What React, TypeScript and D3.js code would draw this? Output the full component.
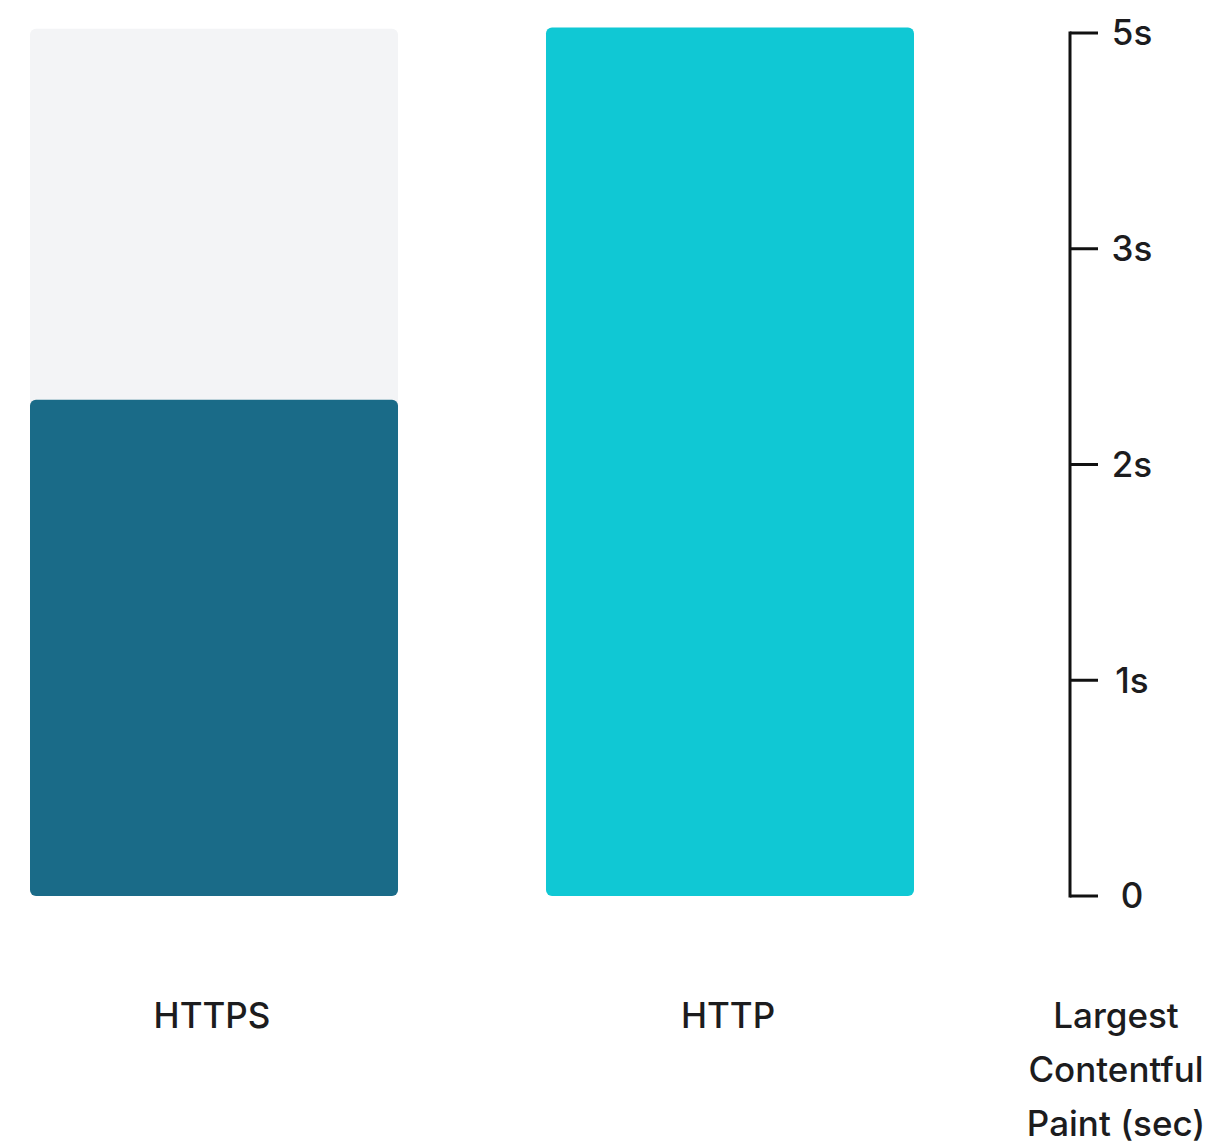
import React from "react";
import * as d3 from "d3";

const categories = ["HTTPS", "HTTP"];
const values = [2.3, 5.05];
const trackValues = [5.04, null];
const barColors = ["#1a6b88", "#10c8d4"];
const trackColor = "#f3f4f6";
const tickValues = [0, 1, 2, 3, 5];
const tickLabels = ["0", "1s", "2s", "3s", "5s"];
const axisTitle = ["Largest", "Contentful", "Paint (sec)"];

const W = 1211;
const H = 1145;
const plotTop = 33;
const plotBottom = 896;
const font = "Inter, 'Noto Sans', sans-serif";
const fontSize = 35;
const fontWeight = 500;
const textColor = "#1c1c1e";

export default function App() {
  const idx = d3.scaleLinear().domain([0, tickValues.length - 1]).range([plotBottom, plotTop]);
  const y = d3
    .scaleLinear()
    .domain(tickValues)
    .range(tickValues.map((_, i) => idx(i)));
  const x = d3.scaleBand().domain(categories).range([30, 914]).paddingInner(0.2868).paddingOuter(0);
  const axisX = 1070;
  const tickLen = 28;
  const labelX = 1132;

  return (
    <svg width={W} height={H} style={{ position: "absolute", left: 0, top: 0, background: "#fff" }}>
      {categories.map((c, i) => {
        const x0 = x(c)!;
        const bw = x.bandwidth();
        const tv = trackValues[i];
        return (
          <g key={c}>
            {tv != null && (
              <rect x={x0} y={y(tv)} width={bw} height={y(0) - y(tv)} rx={6} fill={trackColor} />
            )}
            <rect x={x0} y={y(values[i])} width={bw} height={y(0) - y(values[i])} rx={6} fill={barColors[i]} />
            <text
              x={x0 + bw / 2 - 2}
              y={1028}
              textAnchor="middle"
              fontFamily={font}
              fontSize={fontSize}
              fontWeight={fontWeight}
              fill={textColor}
            >
              {c}
            </text>
          </g>
        );
      })}
      <g>
        <line x1={axisX} x2={axisX} y1={y(5) - 1.5} y2={y(0) + 1.5} stroke="#111" strokeWidth={3} />
        {tickValues.map((t, i) => (
          <g key={t}>
            <line x1={axisX} x2={axisX + tickLen} y1={y(t)} y2={y(t)} stroke="#111" strokeWidth={3} />
            <text
              x={labelX}
              y={y(t)}
              dy="0.35em"
              textAnchor="middle"
              fontFamily={font}
              fontSize={fontSize}
              fontWeight={fontWeight}
              fill={textColor}
            >
              {tickLabels[i]}
            </text>
          </g>
        ))}
        {axisTitle.map((s, i) => (
          <text
            key={s}
            x={1116}
            y={1028 + i * 54}
            textAnchor="middle"
            fontFamily={font}
            fontSize={fontSize}
            fontWeight={fontWeight}
            fill={textColor}
          >
            {s}
          </text>
        ))}
      </g>
    </svg>
  );
}
